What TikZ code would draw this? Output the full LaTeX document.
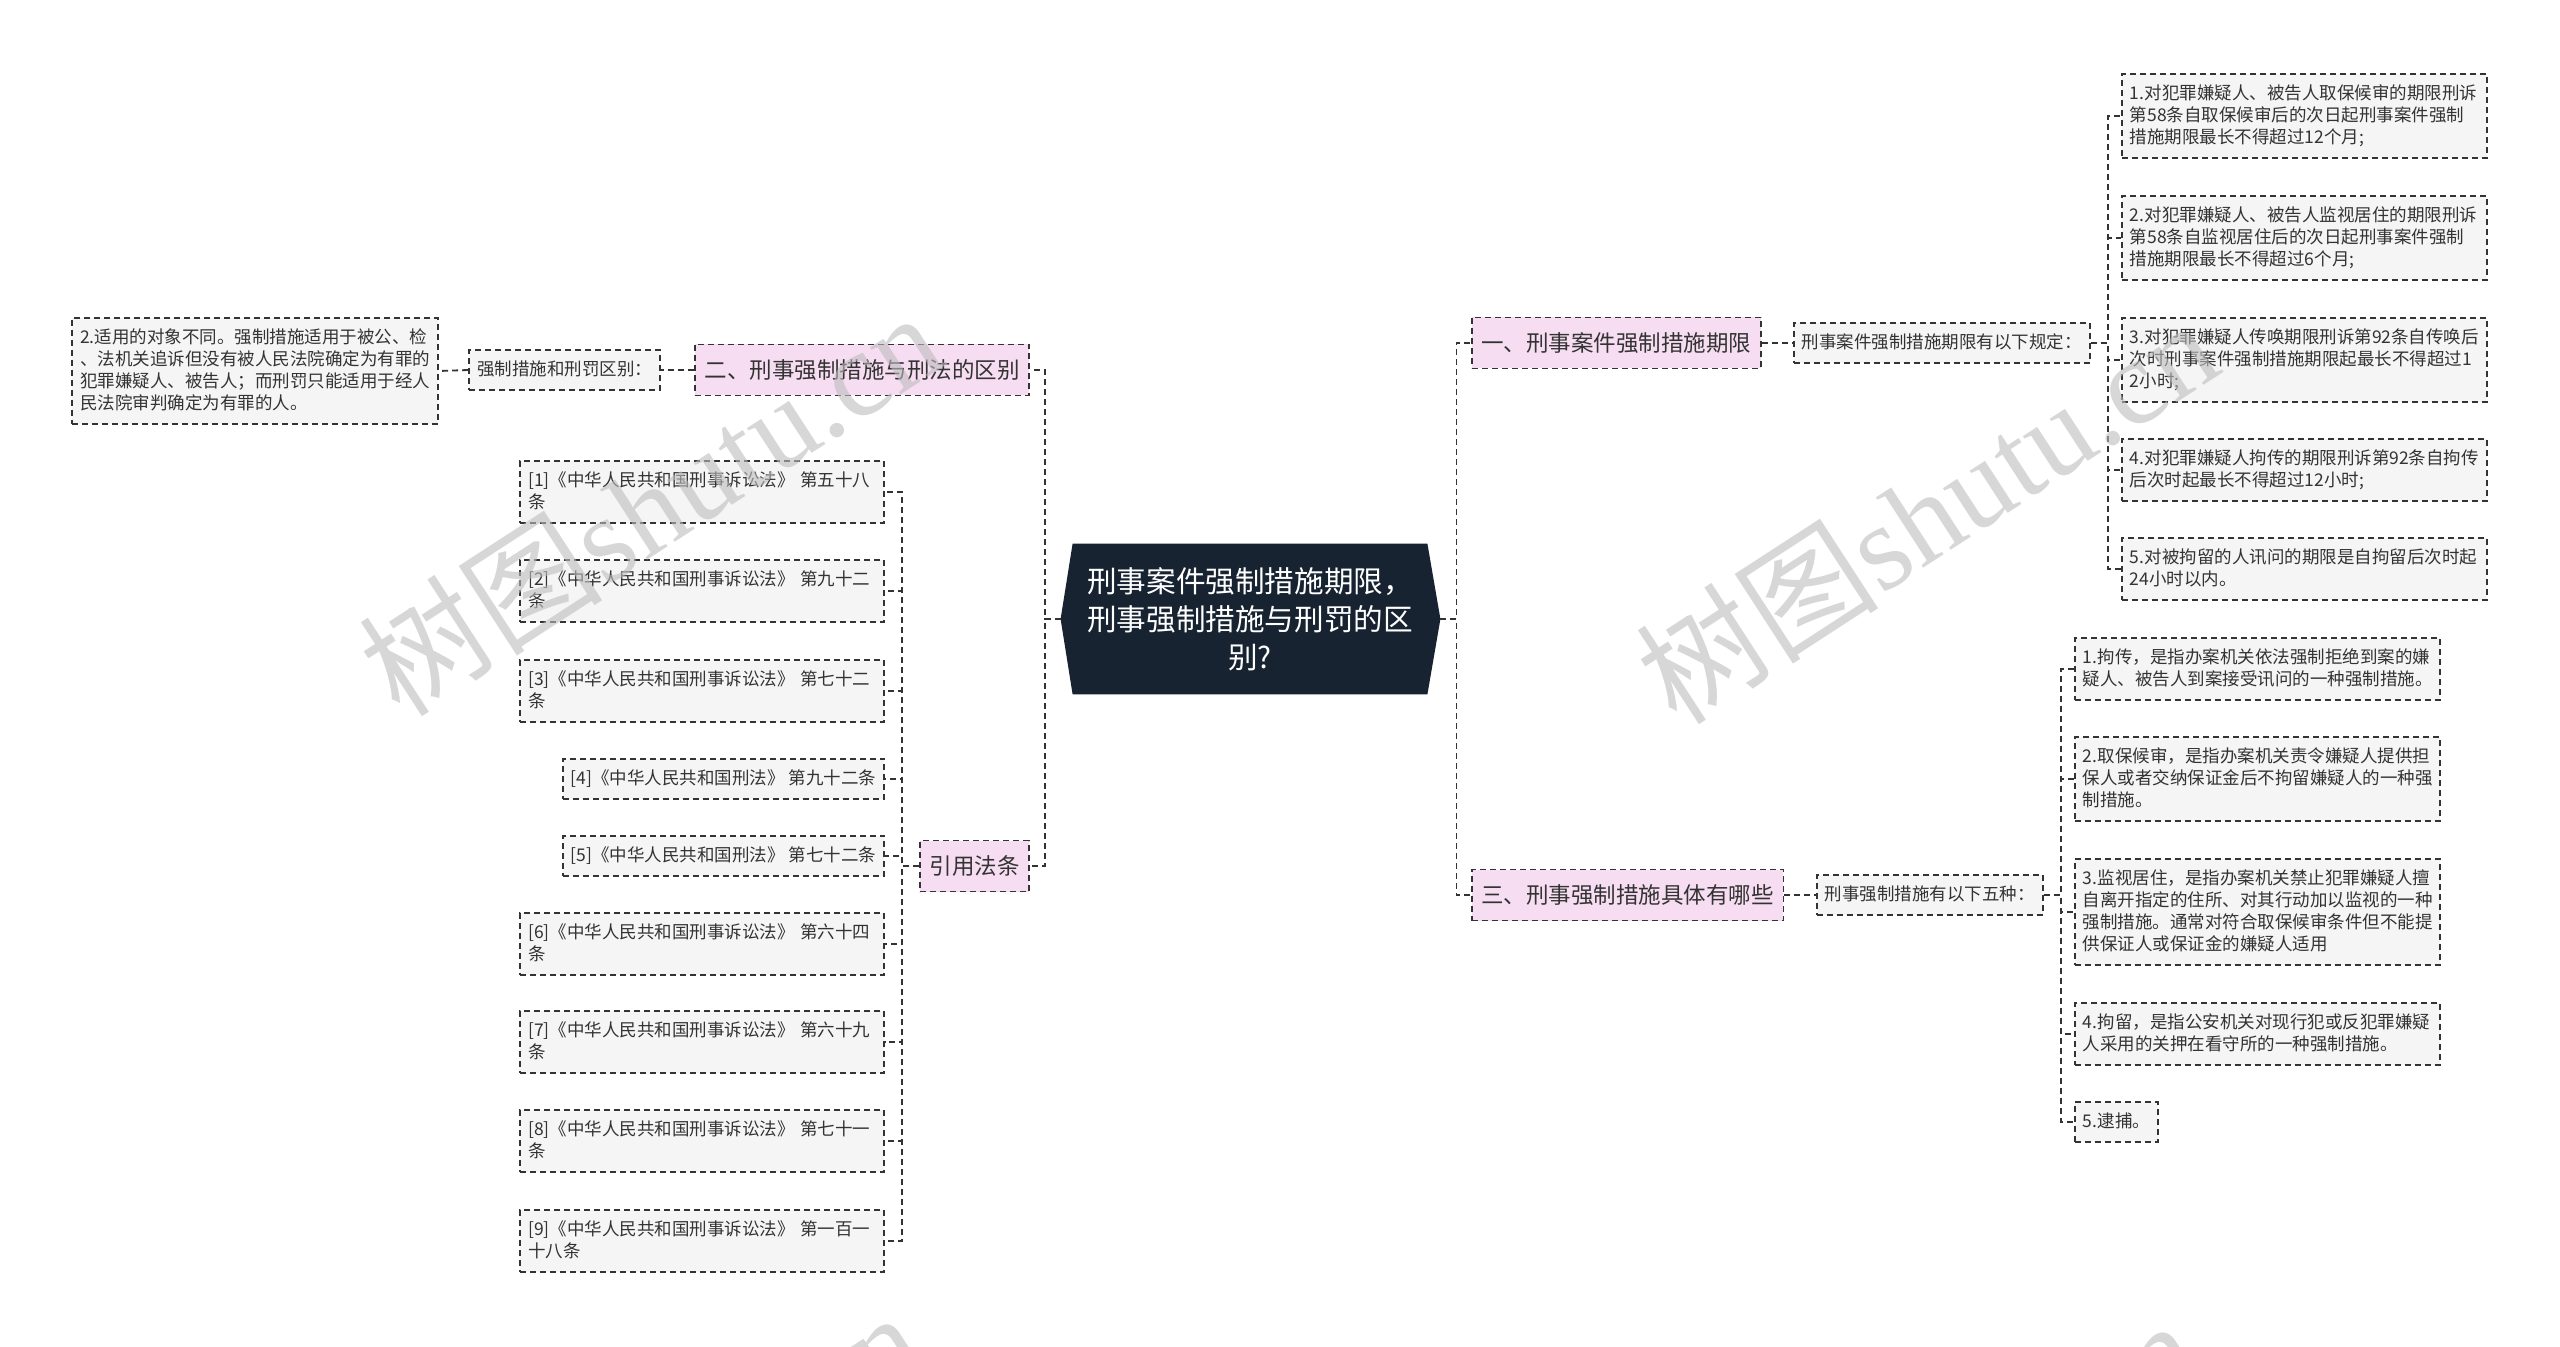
\documentclass[tikz,border=0pt]{standalone}
\usepackage{fontspec}
\setmainfont{Noto Sans CJK SC}
\newfontfamily\wmfont{Liberation Serif}
\usepackage{xcolor}
\usetikzlibrary{backgrounds}
\setlength\parindent{0pt}

\definecolor{rootfill}{HTML}{172331}
\definecolor{pinkfill}{HTML}{F7DDF2}
\definecolor{leaffill}{HTML}{F5F5F5}
\definecolor{linegray}{HTML}{333333}
\definecolor{wmgray}{HTML}{BDBDBD}
\newcommand\lnstrut{\rule[-2.6pt]{0pt}{11pt}}

\begin{document}
\begin{tikzpicture}[x=0.5pt, y=-0.5pt,
  mmline/.style={draw=linegray, line width=0.9pt, dash pattern=on 3pt off 2pt},
  mmroot/.style={text=white, font=\fontsize{14.8}{19}\selectfont, align=center, minimum width=177pt, minimum height=75pt, inner sep=0pt},
  mmtopic/.style={mmline, fill=pinkfill, text=linegray, font=\fontsize{11.25}{14}\selectfont, minimum height=25.5pt, inner xsep=4.75pt, inner ysep=0pt},
  mmsub/.style={mmline, fill=leaffill, text=linegray, font=\fontsize{8.75}{11}\selectfont, inner xsep=4pt, inner ysep=4.5pt, execute at begin node=\lnstrut, execute at end node=\lnstrut},
  mmleaf/.style={mmsub, align=left, text width=174.5pt},
  mmlink/.style={mmline},
  wmtext/.style={text=wmgray, opacity=0.6, rotate=33, font=\fontsize{61}{61}\selectfont}
]
\useasboundingbox (0,0) rectangle (2560,1347);
\clip (0,0) rectangle (2560,1347);

\node[mmroot] (root) at (1250,619) {刑事案件强制措施期限，\\刑事强制措施与刑罚的区\\别?};
\begin{scope}[on background layer]
  \fill[white] (0,0) rectangle (2560,1347);
  \fill[rootfill] (root.north west) -- (root.north east) -- ([xshift=6.5pt]root.east) -- (root.south east) -- (root.south west) -- ([xshift=-6pt]root.west) -- cycle;
\end{scope}
\coordinate (rootW) at ([xshift=-6pt]root.west);
\coordinate (rootE) at ([xshift=6.5pt]root.east);

% left side
\node[mmtopic, anchor=east] (diff) at (1030,370) {二、刑事强制措施与刑法的区别};
\node[mmsub, anchor=east] (diffq) at (661,370) {强制措施和刑罚区别：};
\node[mmleaf, anchor=east, text width=175pt] (diffa) at (439,371) {2.适用的对象不同。强制措施适用于被公、检\\、法机关追诉但没有被人民法院确定为有罪的\\犯罪嫌疑人、被告人；而刑罚只能适用于经人\\民法院审判确定为有罪的人。};

\node[mmtopic, anchor=east] (cite) at (1030,866) {引用法条};
\node[mmleaf, anchor=east, text width=174pt] (ref1) at (885,492) {[1]《中华人民共和国刑事诉讼法》 第五十八\\条};
\node[mmleaf, anchor=east, text width=174pt] (ref2) at (885,591) {[2]《中华人民共和国刑事诉讼法》 第九十二\\条};
\node[mmleaf, anchor=east, text width=174pt] (ref3) at (885,691) {[3]《中华人民共和国刑事诉讼法》 第七十二\\条};
\node[mmsub, anchor=east] (ref4) at (885,779) {[4]《中华人民共和国刑法》 第九十二条};
\node[mmsub, anchor=east] (ref5) at (885,856) {[5]《中华人民共和国刑法》 第七十二条};
\node[mmleaf, anchor=east, text width=174pt] (ref6) at (885,944) {[6]《中华人民共和国刑事诉讼法》 第六十四\\条};
\node[mmleaf, anchor=east, text width=174pt] (ref7) at (885,1042) {[7]《中华人民共和国刑事诉讼法》 第六十九\\条};
\node[mmleaf, anchor=east, text width=174pt] (ref8) at (885,1141) {[8]《中华人民共和国刑事诉讼法》 第七十一\\条};
\node[mmleaf, anchor=east, text width=174pt] (ref9) at (885,1241) {[9]《中华人民共和国刑事诉讼法》 第一百一\\十八条};

% right side
\node[mmtopic, anchor=west] (lim) at (1471,343) {一、刑事案件强制措施期限};
\node[mmsub, anchor=west] (limq) at (1793,343) {刑事案件强制措施期限有以下规定：};
\node[mmleaf, anchor=west] (lim1) at (2121,116) {1.对犯罪嫌疑人、被告人取保候审的期限刑诉\\第58条自取保候审后的次日起刑事案件强制\\措施期限最长不得超过12个月;};
\node[mmleaf, anchor=west] (lim2) at (2121,238) {2.对犯罪嫌疑人、被告人监视居住的期限刑诉\\第58条自监视居住后的次日起刑事案件强制\\措施期限最长不得超过6个月;};
\node[mmleaf, anchor=west] (lim3) at (2121,360) {3.对犯罪嫌疑人传唤期限刑诉第92条自传唤后\\次时刑事案件强制措施期限起最长不得超过1\\2小时;};
\node[mmleaf, anchor=west] (lim4) at (2121,470) {4.对犯罪嫌疑人拘传的期限刑诉第92条自拘传\\后次时起最长不得超过12小时;};
\node[mmleaf, anchor=west] (lim5) at (2121,569) {5.对被拘留的人讯问的期限是自拘留后次时起\\24小时以内。};

\node[mmtopic, anchor=west] (kind) at (1471,895) {三、刑事强制措施具体有哪些};
\node[mmsub, anchor=west] (kindq) at (1816,895) {刑事强制措施有以下五种：};
\node[mmleaf, anchor=west] (kind1) at (2074,669) {1.拘传，是指办案机关依法强制拒绝到案的嫌\\疑人、被告人到案接受讯问的一种强制措施。};
\node[mmleaf, anchor=west] (kind2) at (2074,779) {2.取保候审，是指办案机关责令嫌疑人提供担\\保人或者交纳保证金后不拘留嫌疑人的一种强\\制措施。};
\node[mmleaf, anchor=west] (kind3) at (2074,912) {3.监视居住，是指办案机关禁止犯罪嫌疑人擅\\自离开指定的住所、对其行动加以监视的一种\\强制措施。通常对符合取保候审条件但不能提\\供保证人或保证金的嫌疑人适用};
\node[mmleaf, anchor=west] (kind4) at (2074,1034) {4.拘留，是指公安机关对现行犯或反犯罪嫌疑\\人采用的关押在看守所的一种强制措施。};
\node[mmsub, anchor=west] (kind5) at (2074,1122) {5.逮捕。};

% connectors
\draw[mmlink] (rootW) -- ++(-8pt,0) |- (diff.east);
\draw[mmlink] (rootW) -- ++(-8pt,0) |- (cite.east);
\draw[mmlink] (rootE) -- ++(8pt,0) |- (lim.west);
\draw[mmlink] (rootE) -- ++(8pt,0) |- (kind.west);
\draw[mmlink] (diff.west) -- (diffq.east);
\draw[mmlink] (diffq.west) -- (diffa.east);
\foreach \i in {1,...,9}
  \draw[mmlink] (cite.west) -- ++(-8.5pt,0) |- (ref\i.east);
\draw[mmlink] (lim.east) -- (limq.west);
\foreach \i in {1,...,5}
  \draw[mmlink] (limq.east) -- ++(8.5pt,0) |- (lim\i.west);
\draw[mmlink] (kind.east) -- (kindq.west);
\foreach \i in {1,...,5}
  \draw[mmlink] (kindq.east) -- ++(8.5pt,0) |- (kind\i.west);

% watermark
\foreach \wx/\wy/\wn in {650/503/1, 1926/511/2, 630/1503/3, 1906/1511/4}
  \node[wmtext] (wm\wn) at (\wx,\wy) {树图{\wmfont shutu.cn}};
\end{tikzpicture}
\end{document}
